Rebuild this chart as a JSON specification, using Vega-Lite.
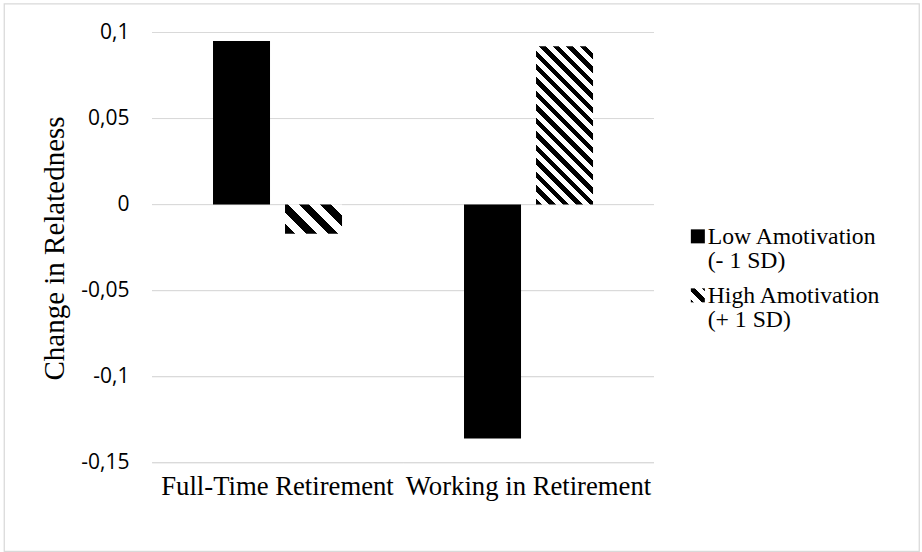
{
  "$schema": "https://vega.github.io/schema/vega-lite/v6.json",
  "autosize": {"type": "none"},
  "padding": {"left": 4, "top": 3.5, "right": 3, "bottom": 1},
  "width": 915,
  "height": 547.5,
  "background": "white",
  "config": {
    "view": {"stroke": "#d9d9d9", "strokeWidth": 1.25},
    "axis": {"domain": false, "ticks": false, "tickSize": 0, "grid": false, "labelColor": "#000000", "titleColor": "#000000", "labelFlush": false, "labelBound": false}
  },
  "datasets": {
    "bars": [
      {"cat": "Full-Time Retirement", "series": "Low Amotivation (- 1 SD)", "value": 0.095},
      {"cat": "Full-Time Retirement", "series": "High Amotivation (+ 1 SD)", "value": -0.017},
      {"cat": "Working in Retirement", "series": "Low Amotivation (- 1 SD)", "value": -0.136},
      {"cat": "Working in Retirement", "series": "High Amotivation (+ 1 SD)", "value": 0.092}
    ],
    "grid": [
      {"cat": "Full-Time Retirement", "value": 0.1},
      {"cat": "Full-Time Retirement", "value": 0.05},
      {"cat": "Full-Time Retirement", "value": 0},
      {"cat": "Full-Time Retirement", "value": -0.05},
      {"cat": "Full-Time Retirement", "value": -0.1},
      {"cat": "Full-Time Retirement", "value": -0.15},
      {"cat": "Working in Retirement", "value": 0.1},
      {"cat": "Working in Retirement", "value": 0.05},
      {"cat": "Working in Retirement", "value": 0},
      {"cat": "Working in Retirement", "value": -0.05},
      {"cat": "Working in Retirement", "value": -0.1},
      {"cat": "Working in Retirement", "value": -0.15}
    ]
  },
  "encoding": {
    "x": {
      "field": "cat",
      "type": "nominal",
      "scale": {"domain": ["Full-Time Retirement", "Working in Retirement"], "paddingInner": 0, "paddingOuter": 0.8227, "align": 0.3584},
      "axis": {
        "orient": "bottom",
        "offset": -88.3,
        "title": null,
        "labelAngle": 0,
        "labelFont": "Liberation Serif",
        "labelFontSize": 26.7,
        "labelPadding": 11,
        "labelLimit": 400,
        "labelOverlap": false
      }
    },
    "y": {
      "field": "value",
      "type": "quantitative",
      "stack": null,
      "scale": {"domain": [-0.20131, 0.11685], "nice": false, "zero": false},
      "title": "Change in Relatedness",
      "axis": {
        "orient": "left",
        "offset": -148,
        "values": [-0.15, -0.1, -0.05, 0, 0.05, 0.1],
        "labelExpr": "replace(toString(datum.value), '.', ',')",
        "labelFont": "Open Sans",
        "labelFontSize": 21,
        "labelPadding": 23,
        "titleFont": "Liberation Serif",
        "titleFontSize": 29,
        "titleFontWeight": "normal",
        "titleBaseline": "alphabetic",
        "titleAlign": "center",
        "titleAngle": 270,
        "titleX": -88.5,
        "titleY": 244.5
      }
    }
  },
  "layer": [
    {
      "data": {"name": "grid"},
      "mark": {"type": "bar", "fillOpacity": 0, "stroke": "#d9d9d9", "strokeWidth": 1},
      "encoding": {
        "y2": {"field": "value"}
      }
    },
    {
      "data": {"name": "bars"},
      "transform": [{"filter": "datum.series == 'Low Amotivation (- 1 SD)'"}],
      "mark": {"type": "bar"},
      "encoding": {
        "xOffset": {"field": "series", "type": "nominal", "scale": {"domain": ["Low Amotivation (- 1 SD)", "High Amotivation (+ 1 SD)"], "paddingInner": 0.2083, "paddingOuter": 0.847}},
        "color": {
          "field": "series",
          "type": "nominal",
          "scale": {
            "domain": ["Low Amotivation (- 1 SD)", "High Amotivation (+ 1 SD)"],
            "range": [
              "#000000",
              {"expr": "{gradient: 'linear', x1: 0, y1: 1, x2: 1, y2: 0, stops: [{offset: 0, color: '#000'}, {offset: 0.12, color: '#000'}, {offset: 0.12, color: '#fff'}, {offset: 0.38, color: '#fff'}, {offset: 0.38, color: '#000'}, {offset: 0.64, color: '#000'}, {offset: 0.64, color: '#fff'}, {offset: 0.88, color: '#fff'}, {offset: 0.88, color: '#000'}, {offset: 1, color: '#000'}]}"}
            ]
          },
          "legend": {
            "orient": "none",
            "legendX": 682,
            "legendY": 221,
            "title": null,
            "padding": 0,
            "symbolType": "square",
            "symbolSize": 196,
            "symbolOpacity": 1,
            "symbolStrokeWidth": 0,
            "labelFont": "Liberation Serif",
            "labelFontSize": 23.7,
            "labelColor": "#000000",
            "labelLimit": 400,
            "labelOffset": -2,
            "rowPadding": 10,
            "labelExpr": "datum.label == 'Low Amotivation (- 1 SD)' ? ['Low Amotivation', '(- 1 SD)'] : ['High Amotivation', '(+ 1 SD)']",
            "encode": {"labels": {"update": {"dy": {"value": 1}, "lineHeight": {"value": 24}}}}
          }
        }
      }
    },
    {
      "data": {"name": "bars"},
      "transform": [{"filter": "datum.series == 'High Amotivation (+ 1 SD)' && datum.cat == 'Full-Time Retirement'"}],
      "mark": {
        "type": "bar",
        "fill": {
          "gradient": "linear", "x1": 0, "y1": 1, "x2": 1.198, "y2": 0.385,
          "stops": [
            {"offset": 0, "color": "#000"}, {"offset": 0.12, "color": "#000"}, {"offset": 0.12, "color": "#fff"}, {"offset": 0.25, "color": "#fff"},
            {"offset": 0.25, "color": "#000"}, {"offset": 0.37, "color": "#000"}, {"offset": 0.37, "color": "#fff"}, {"offset": 0.5, "color": "#fff"},
            {"offset": 0.5, "color": "#000"}, {"offset": 0.62, "color": "#000"}, {"offset": 0.62, "color": "#fff"}, {"offset": 0.75, "color": "#fff"},
            {"offset": 0.75, "color": "#000"}, {"offset": 0.87, "color": "#000"}, {"offset": 0.87, "color": "#fff"}, {"offset": 1, "color": "#fff"}
          ]
        }
      },
      "encoding": {
        "xOffset": {"field": "series", "type": "nominal", "scale": {"domain": ["Low Amotivation (- 1 SD)", "High Amotivation (+ 1 SD)"], "paddingInner": 0.2083, "paddingOuter": 0.847}}
      }
    },
    {
      "data": {"name": "bars"},
      "transform": [{"filter": "datum.series == 'High Amotivation (+ 1 SD)' && datum.cat == 'Working in Retirement'"}],
      "mark": {
        "type": "bar",
        "fill": {
          "gradient": "linear", "x1": 0, "y1": 1, "x2": 0.4335, "y2": -0.2039,
          "stops": [
            {"offset": 0, "color": "#000"}, {"offset": 0.03, "color": "#000"}, {"offset": 0.03, "color": "#fff"}, {"offset": 0.0625, "color": "#fff"},
            {"offset": 0.0625, "color": "#000"}, {"offset": 0.0925, "color": "#000"}, {"offset": 0.0925, "color": "#fff"}, {"offset": 0.125, "color": "#fff"},
            {"offset": 0.125, "color": "#000"}, {"offset": 0.155, "color": "#000"}, {"offset": 0.155, "color": "#fff"}, {"offset": 0.1875, "color": "#fff"},
            {"offset": 0.1875, "color": "#000"}, {"offset": 0.2175, "color": "#000"}, {"offset": 0.2175, "color": "#fff"}, {"offset": 0.25, "color": "#fff"},
            {"offset": 0.25, "color": "#000"}, {"offset": 0.28, "color": "#000"}, {"offset": 0.28, "color": "#fff"}, {"offset": 0.3125, "color": "#fff"},
            {"offset": 0.3125, "color": "#000"}, {"offset": 0.3425, "color": "#000"}, {"offset": 0.3425, "color": "#fff"}, {"offset": 0.375, "color": "#fff"},
            {"offset": 0.375, "color": "#000"}, {"offset": 0.405, "color": "#000"}, {"offset": 0.405, "color": "#fff"}, {"offset": 0.4375, "color": "#fff"},
            {"offset": 0.4375, "color": "#000"}, {"offset": 0.4675, "color": "#000"}, {"offset": 0.4675, "color": "#fff"}, {"offset": 0.5, "color": "#fff"},
            {"offset": 0.5, "color": "#000"}, {"offset": 0.53, "color": "#000"}, {"offset": 0.53, "color": "#fff"}, {"offset": 0.5625, "color": "#fff"},
            {"offset": 0.5625, "color": "#000"}, {"offset": 0.5925, "color": "#000"}, {"offset": 0.5925, "color": "#fff"}, {"offset": 0.625, "color": "#fff"},
            {"offset": 0.625, "color": "#000"}, {"offset": 0.655, "color": "#000"}, {"offset": 0.655, "color": "#fff"}, {"offset": 0.6875, "color": "#fff"},
            {"offset": 0.6875, "color": "#000"}, {"offset": 0.7175, "color": "#000"}, {"offset": 0.7175, "color": "#fff"}, {"offset": 0.75, "color": "#fff"},
            {"offset": 0.75, "color": "#000"}, {"offset": 0.78, "color": "#000"}, {"offset": 0.78, "color": "#fff"}, {"offset": 0.8125, "color": "#fff"},
            {"offset": 0.8125, "color": "#000"}, {"offset": 0.8425, "color": "#000"}, {"offset": 0.8425, "color": "#fff"}, {"offset": 0.875, "color": "#fff"},
            {"offset": 0.875, "color": "#000"}, {"offset": 0.905, "color": "#000"}, {"offset": 0.905, "color": "#fff"}, {"offset": 0.9375, "color": "#fff"},
            {"offset": 0.9375, "color": "#000"}, {"offset": 0.9675, "color": "#000"}, {"offset": 0.9675, "color": "#fff"}, {"offset": 1, "color": "#fff"}
          ]
        }
      },
      "encoding": {
        "xOffset": {"field": "series", "type": "nominal", "scale": {"domain": ["Low Amotivation (- 1 SD)", "High Amotivation (+ 1 SD)"], "paddingInner": 0.2083, "paddingOuter": 0.847}}
      }
    }
  ]
}
